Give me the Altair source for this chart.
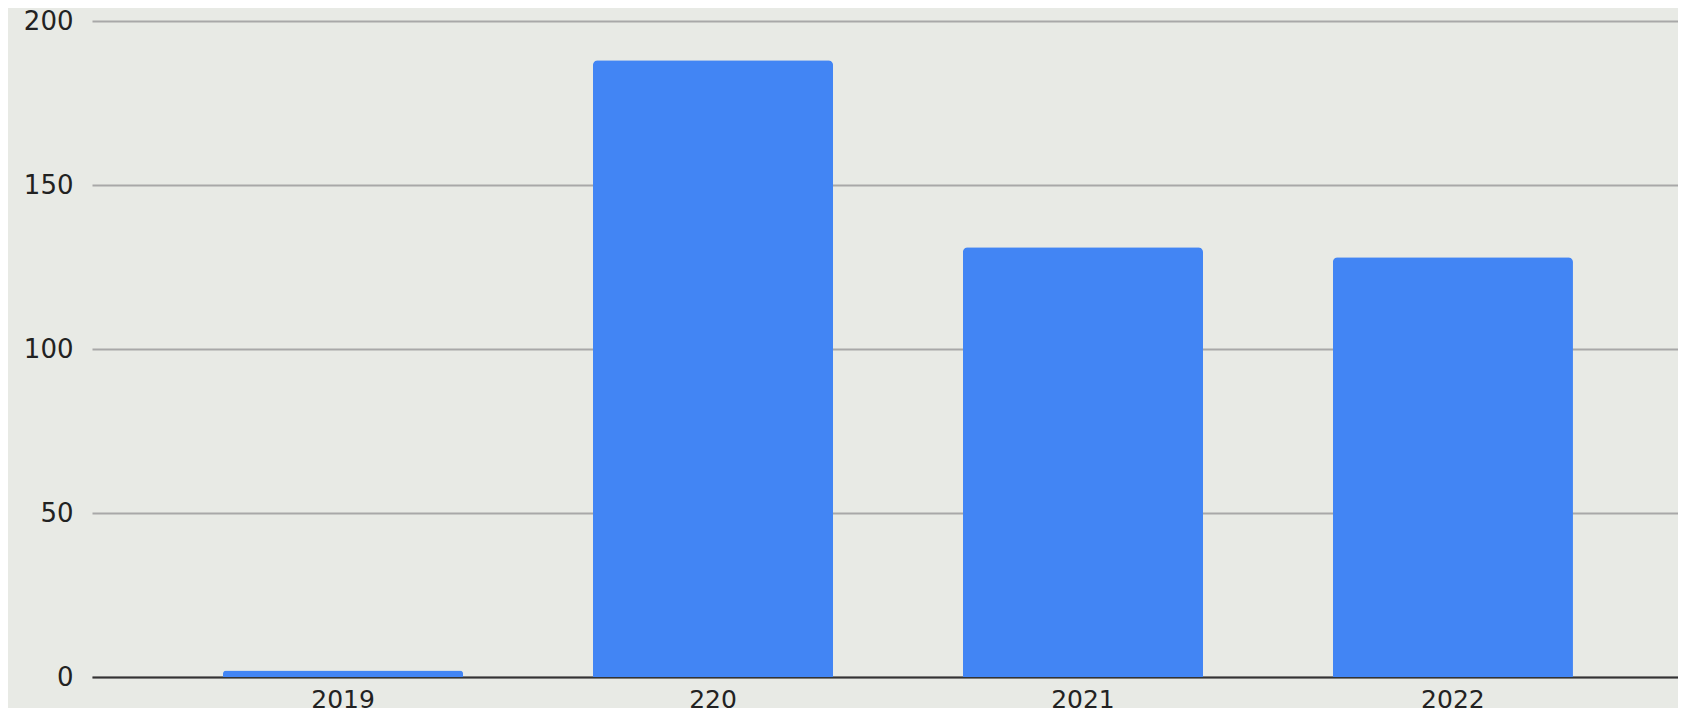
import altair as alt
import pandas as pd

categories = ["2019", "220", "2021", "2022"]
values = [2, 188, 131, 128]
y_ticks = [0, 50, 100, 150, 200]

df = pd.DataFrame({"category": categories, "value": values})

chart = (
    alt.Chart(df)
    .mark_bar(color="#4285f4", cornerRadiusTopLeft=5, cornerRadiusTopRight=5)
    .encode(
        x=alt.X(
            "category:N",
            sort=categories,
            title=None,
            scale=alt.Scale(paddingInner=0.351, paddingOuter=0.319, align=0.555),
            axis=alt.Axis(
                labelAngle=0,
                labelFont="DejaVu Sans",
                labelFontSize=25,
                labelColor="#222222",
                labelPadding=10,
                ticks=False,
                domainColor="#333333",
                domainWidth=2,
                grid=False,
            ),
        ),
        y=alt.Y(
            "value:Q",
            title=None,
            scale=alt.Scale(domain=[0, 200], nice=False),
            axis=alt.Axis(
                values=y_ticks,
                labelFont="DejaVu Sans",
                labelFontSize=26,
                labelColor="#222222",
                labelPadding=19,
                ticks=False,
                domain=False,
                gridColor="#a8a8a8",
                gridWidth=2,
                gridOpacity=1,
            ),
        ),
    )
    .properties(
        width=1586,
        height=656,
        background="#e8eae5",
        padding={"left": 84, "top": 13, "right": 0, "bottom": 31},
        autosize=alt.AutoSizeParams(type="none"),
    )
    .configure_view(stroke=None)
)

chart.save("out.html", embed_options={"renderer": "svg", "actions": False})
